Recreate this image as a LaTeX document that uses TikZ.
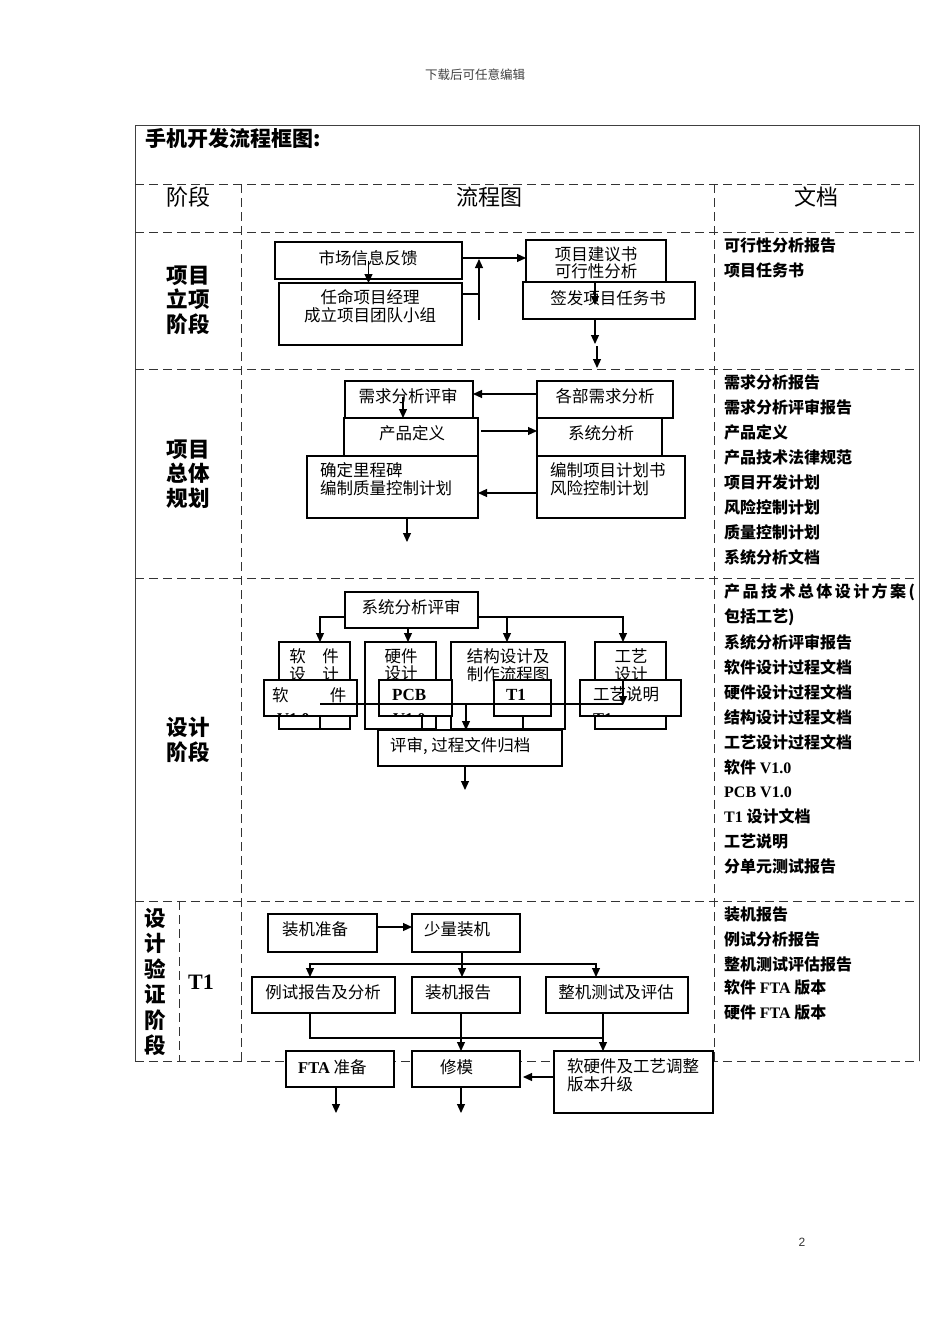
\documentclass[tikz,border=0pt]{standalone}
\usepackage{fontspec}
\setmainfont{Liberation Serif}
\newfontfamily\cjk{Noto Sans CJK SC}
\newfontfamily\lsans{Liberation Sans}
\usetikzlibrary{arrows.meta}
\newcommand\bxx[5]{\node[box, minimum width={(#4-#2)*1pt}, minimum height={(#5-#3)*1pt}] (#1) at (#2,#3) {};}
\newcommand\lat[1]{{\rmfamily\bfseries #1}}
\begin{document}
\begin{tikzpicture}[x=1pt,y=-1pt,
 box/.style={draw, line width=1.1pt, fill=white, inner sep=0pt, outer sep=0pt, anchor=north west},
 txt/.style={font=\cjk\fontsize{16.5}{17.5}\selectfont, inner sep=0pt, align=center},
 ltxt/.style={txt, anchor=west, align=left},
 doc/.style={font=\cjk\bfseries\fontsize{16}{17}\selectfont, inner sep=0pt, anchor=west},
 stage/.style={font=\cjk\bfseries\fontsize{21.5}{24.5}\selectfont, inner sep=0pt, align=center},
 head/.style={font=\cjk\fontsize{22}{24}\selectfont, inner sep=0pt},
 cut/.style={font=\rmfamily\bfseries\fontsize{16.5}{17}\selectfont, inner sep=0pt, anchor=north west},
 grid/.style={line width=1pt, dash pattern=on 9pt off 5pt, draw=black!80},
 frame/.style={line width=1pt, draw=black!75},
 arr/.style={line width=1.1pt, -{Triangle[length=9pt,width=8pt]}},
 ln/.style={line width=1.1pt},
]
\useasboundingbox (0,0) rectangle (950,1344);

% page header / footer
\node[font=\cjk\fontsize{12.5}{14}\selectfont, text=black!75, inner sep=0pt] (hdr) at (475,75) {下载后可任意编辑};
\node[font=\lsans\fontsize{12}{14}\selectfont, text=black!80, inner sep=0pt] (pg) at (802,1242) {2};

% table frame
\draw[frame] (135,1061) -- (135,125) -- (919,125) -- (919,1061);
\foreach \yy in {184,232,369,578,901,1061} \draw[grid] (135,\yy) -- (919,\yy);
\draw[grid] (241,184) -- (241,1061);
\draw[grid] (714,184) -- (714,1061);
\draw[grid] (179,901) -- (179,1061);

% title and headings
\node[font=\cjk\bfseries\fontsize{21}{24}\selectfont, anchor=west, inner sep=0pt] (title) at (145,138) {手机开发流程框图:};
\node[head] (h1) at (188,197) {阶段};
\node[head] (h2) at (489,197) {流程图};
\node[head] (h3) at (816,197) {文档};

% stage labels
\node[stage] (s1) at (188,300) {项目\\立项\\阶段};
\node[stage] (s2) at (188,474) {项目\\总体\\规划};
\node[stage] (s3) at (188,740) {设计\\阶段};
\node[font=\cjk\bfseries\fontsize{21.5}{25.4}\selectfont, inner sep=0pt, align=center] (s4) at (155,982) {设\\计\\验\\证\\阶\\段};
\node[font=\rmfamily\bfseries\fontsize{22}{24}\selectfont, inner sep=0pt] (s4b) at (201,982) {T1};

% ---------- row 1 ----------
\bxx{mkt}{275}{242}{462}{279}
\node[txt] (mktT) at (368,258) {市场信息反馈};
\bxx{pm}{279}{283}{462}{345}
\node[txt] (pmT) at (370,306) {任命项目经理\\成立项目团队小组};
\bxx{prop}{526}{240}{666}{283}
\node[txt] (propT) at (596,263) {项目建议书\\可行性分析};
\bxx{task}{523}{282}{695}{319}
\node[txt] (taskT) at (608,298) {签发项目任务书};

\draw[arr] (mkt.center) -- (mkt.center |- pm.north);
\draw[arr] (mkt.east |- 0,258) -- (prop.west |- 0,258);
\coordinate (j1) at (479,294);
\draw[ln] (pm.north east |- j1) -- (j1);
\draw[arr] (479,320) -- (479,259);
\draw[arr] (prop.south -| 595,0) -- (595,305);
\coordinate (r1a) at (595,344);
\draw[arr] (task.south -| r1a) -- (r1a);
\draw[arr] (597,346) -- (597,368);

% ---------- row 2 ----------
\bxx{rev}{345}{381}{473}{418}
\node[txt] (revT) at (408,396) {需求分析评审};
\bxx{dep}{537}{381}{673}{418}
\node[txt] (depT) at (605,396) {各部需求分析};
\bxx{pd}{344}{418}{478}{456}
\node[txt] (pdT) at (412,433) {产品定义};
\bxx{sys}{537}{418}{662}{456}
\node[txt] (sysT) at (601,433) {系统分析};
\bxx{ms}{307}{456}{478}{518}
\node[ltxt] (msT) at (320,479) {确定里程碑\\编制质量控制计划};
\bxx{plan}{537}{456}{685}{518}
\node[ltxt] (planT) at (550,479) {编制项目计划书\\风险控制计划};

\draw[arr] (403,397) -- (rev.south -| 403,0);
\draw[arr] (dep.west |- 0,394) -- (rev.east |- 0,394);
\draw[arr] (481,431) -- (sys.west |- 0,431);
\draw[arr] (plan.west |- 0,493) -- (ms.east |- 0,493);
\draw[arr] (ms.south -| 407,0) -- (407,542);

% ---------- row 3 ----------
\bxx{sar}{345}{592}{478}{628}
\node[txt] (sarT) at (411,607) {系统分析评审};

\bxx{sw}{279}{642}{350}{729}
\node[txt] (swT) at (314,665) {软\hspace{1em}件\\设\hspace{1em}计};
\bxx{hw}{365}{642}{436}{729}
\node[txt] (hwT) at (401,665) {硬件\\设计};
\bxx{st}{451}{642}{565}{729}
\node[txt] (stT) at (508,665) {结构设计及\\制作流程图};
\bxx{cr}{595}{642}{666}{729}
\node[txt] (crT) at (631,665) {工艺\\设计};

\draw[arr] (sar.west |- 0,617) -| (sw.north -| 320,0);
\draw[arr] (sar.south -| 408,0) -- (hw.north -| 408,0);
\draw[arr] (sar.east |- 0,617) -| (cr.north -| 623,0);
\draw[arr] (507,617) -- (st.north -| 507,0);

% overlapping output boxes
\bxx{swv}{264}{680}{357}{716}
\node[txt, anchor=west] (swvT) at (272,695) {软\hspace{2.5em}件};
\begin{scope}
\clip (264,680) rectangle (357,716);
\node[cut] (swvV) at (277,713) {V1.0};
\end{scope}
\bxx{pcb}{379}{680}{452}{716}
\node[font=\rmfamily\bfseries\fontsize{17}{18}\selectfont, inner sep=0pt, anchor=west] (pcbT) at (392,695) {PCB};
\begin{scope}
\clip (379,680) rectangle (452,716);
\node[cut] (pcbV) at (393,713) {V1.0};
\end{scope}
\bxx{t1b}{494}{680}{551}{716}
\node[font=\rmfamily\bfseries\fontsize{17}{18}\selectfont, inner sep=0pt] (t1T) at (516,695) {T1};
\bxx{crd}{580}{680}{681}{716}
\node[txt, anchor=west] (crdT) at (593,694) {工艺说明};
\begin{scope}
\clip (580,680) rectangle (681,716);
\node[cut] (crdV) at (593,713) {T1};
\end{scope}

\coordinate (hl) at (320,704);
\draw[ln] (hl) -- (623,704);
\draw[arr] (crd.north -| 623,0) -- (623,705);
\draw[ln] (swv.south -| 320,0) -- (sw.south -| 320,0);
\draw[ln] (pcb.south -| 422,0) -- (hw.south -| 422,0);
\draw[ln] (t1b.south -| 523,0) -- (st.south -| 523,0);

\bxx{rva}{378}{730}{562}{766}
\node[ltxt] (rvaT) at (390,746) {评审, 过程文件归档};
\draw[arr] (466,704) -- (rva.north -| 466,0);
\draw[arr] (rva.south -| 465,0) -- (465,790);

% ---------- row 4 ----------
\bxx{prep}{268}{914}{377}{952}
\node[ltxt] (prepT) at (282,929) {装机准备};
\bxx{sm}{412}{914}{520}{952}
\node[ltxt] (smT) at (424,929) {少量装机};
\bxx{ex}{252}{977}{395}{1013}
\node[txt] (exT) at (323,992) {例试报告及分析};
\bxx{am}{412}{977}{520}{1013}
\node[ltxt] (amT) at (425,992) {装机报告};
\bxx{wt}{546}{977}{688}{1013}
\node[txt] (wtT) at (616,992) {整机测试及评估};

\draw[arr] (prep.east |- 0,927) -- (sm.west |- 0,927);
\coordinate (j4) at (462,964);
\draw[arr] (sm.south -| j4) -- (am.north -| j4);
\draw[arr] (j4) -| (ex.north -| 310,0);
\draw[arr] (j4) -| (wt.north -| 596,0);

\bxx{fta}{286}{1051}{394}{1087}
\node[ltxt] (ftaT) at (298,1067) {\lat{FTA} 准备};
\bxx{mod}{412}{1051}{520}{1087}
\node[ltxt] (modT) at (440,1067) {修模};
\bxx{adj}{554}{1051}{713}{1113}
\node[ltxt] (adjT) at (567,1075) {软硬件及工艺调整\\版本升级};

\coordinate (j5) at (603,1038);
\draw[ln] (ex.south -| 310,0) |- (j5);
\draw[arr] (am.south -| 461,0) -- (mod.north -| 461,0);
\draw[arr] (wt.south -| j5) -- (adj.north -| j5);
\draw[arr] (adj.west |- 0,1077) -- (523,1077);
\draw[arr] (fta.south -| 336,0) -- (336,1113);
\draw[arr] (mod.south -| 461,0) -- (461,1113);

% ---------- documents column ----------
\node[doc] (d11) at (724,245) {可行性分析报告};
\node[doc] (d12) at (724,270) {项目任务书};

\node[doc] (d21) at (724,382) {需求分析报告};
\node[doc] (d22) at (724,407) {需求分析评审报告};
\node[doc] (d23) at (724,432) {产品定义};
\node[doc] (d24) at (724,457) {产品技术法律规范};
\node[doc] (d25) at (724,482) {项目开发计划};
\node[doc] (d26) at (724,507) {风险控制计划};
\node[doc] (d27) at (724,532) {质量控制计划};
\node[doc] (d28) at (724,557) {系统分析文档};

\node[doc] (d31) at (724,592) {\makebox[184pt][s]{产 品 技 术 总 体 设 计 方 案 (}};
\node[doc] (d32) at (724,617) {包括工艺)};
\node[doc] (d33) at (724,642) {系统分析评审报告};
\node[doc] (d34) at (724,667) {软件设计过程文档};
\node[doc] (d35) at (724,692) {硬件设计过程文档};
\node[doc] (d36) at (724,717) {结构设计过程文档};
\node[doc] (d37) at (724,742) {工艺设计过程文档};
\node[doc] (d38) at (724,767) {软件 \lat{V1.0}};
\node[doc] (d39) at (724,792) {\lat{PCB V1.0}};
\node[doc] (d310) at (724,816) {\lat{T1} 设计文档};
\node[doc] (d311) at (724,841) {工艺说明};
\node[doc] (d312) at (724,866) {分单元测试报告};

\node[doc] (d41) at (724,914) {装机报告};
\node[doc] (d42) at (724,939) {例试分析报告};
\node[doc] (d43) at (724,964) {整机测试评估报告};
\node[doc] (d44) at (724,988) {软件 \lat{FTA} 版本};
\node[doc] (d45) at (724,1013) {硬件 \lat{FTA} 版本};
\end{tikzpicture}
\end{document}
